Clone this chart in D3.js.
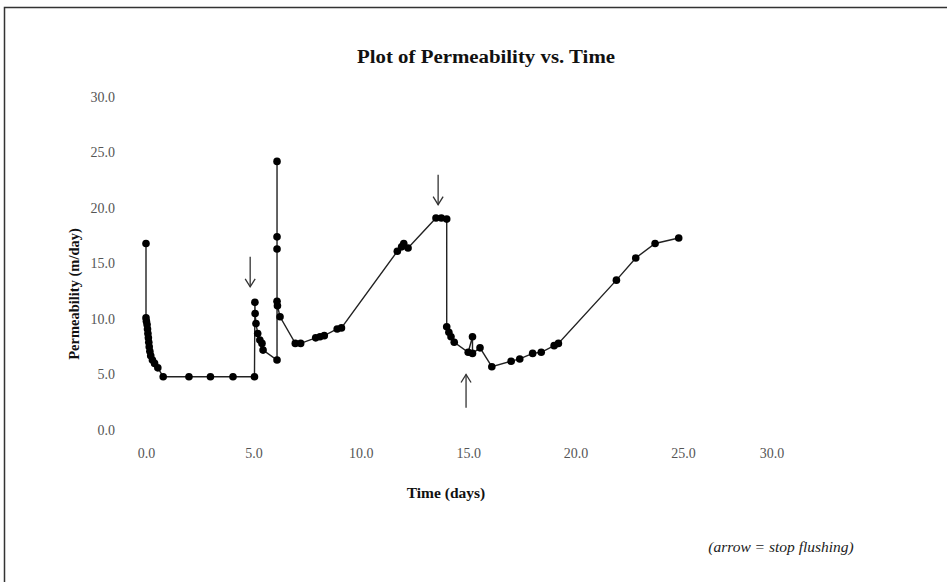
<!DOCTYPE html>
<html>
<head>
<meta charset="utf-8">
<script src="https://cdn.jsdelivr.net/npm/d3@7"></script>
<style>
	body { margin: 0; background: #fff; }
	svg { display: block; }
	.tick text { font-family: "Liberation Serif", serif; font-size: 14px; fill: #555; }
</style>
</head>
<body>
<div id="chart"></div>
<script>

// permeability readings, time in days
var times = [
	0.0, 0.0, 0.02, 0.05, 0.07, 0.09, 0.11, 0.13, 0.15, 0.18, 0.22, 0.3, 0.4, 0.55,
	0.8, 2.0, 3.0, 4.05, 5.05,
	5.07, 5.08, 5.12, 5.2, 5.3, 5.4, 5.45,
	6.1, 6.1, 6.1, 6.1, 6.1, 6.12, 6.24,
	6.95, 7.2, 7.9, 8.1, 8.3, 8.9, 9.1,
	11.7, 11.9, 12.0, 12.2,
	13.5, 13.75, 14.0,
	14.0, 14.1, 14.2, 14.35, 15.0, 15.2, 15.2, 15.55, 16.1,
	17.0, 17.4, 18.0, 18.4, 19.0, 19.2,
	21.9, 22.8, 23.7, 24.8
]

var permeability = [
	16.8, 10.1, 9.8, 9.5, 9.1, 8.7, 8.3, 7.9, 7.5, 7.1, 6.7, 6.3, 6.0, 5.6,
	4.8, 4.8, 4.8, 4.8, 4.8,
	11.5, 10.5, 9.6, 8.7, 8.1, 7.8, 7.2,
	6.3, 24.2, 17.4, 16.3, 11.6, 11.2, 10.2,
	7.8, 7.8, 8.3, 8.4, 8.5, 9.1, 9.2,
	16.1, 16.5, 16.8, 16.4,
	19.1, 19.1, 19.0,
	9.3, 8.8, 8.4, 7.9, 7.0, 8.4, 6.9, 7.4, 5.7,
	6.2, 6.4, 6.9, 7.0, 7.6, 7.8,
	13.5, 15.5, 16.8, 17.3
]

var xTicks = [0, 5, 10, 15, 20, 25, 30]
var yTicks = [0, 5, 10, 15, 20, 25, 30]

// stop flushing markers: time, arrow top value, arrow tip value
var arrowTimes = [4.85, 13.6, 14.9]
var arrowFrom = [15.6, 23.0, 2.0]
var arrowTo = [12.9, 20.3, 5.0]

var width = 947
var height = 582

var svg = d3.select("#chart")
	.append("svg")
	.attr("width", width)
	.attr("height", height)

svg.append("rect")
	.attr("x", 4.5)
	.attr("y", 7.5)
	.attr("width", width + 20)
	.attr("height", height + 20)
	.attr("fill", "#fff")
	.attr("stroke", "#333")
	.attr("stroke-width", 1.5)

var x = d3.scaleLinear()
	.domain([0, 25])
	.range([146, 683])

var y = d3.scaleLinear()
	.domain([0, 30])
	.range([430, 97])

var xAxis = svg.append("g")
	.attr("class", "x axis")
	.attr("transform", "translate(0,451)")
	.call(d3.axisBottom(x).tickValues(xTicks).tickSize(0).tickFormat(d3.format(".1f")))

xAxis.select(".domain").remove()

// the last label sits a little left in the original
xAxis.selectAll(".tick text")
	.attr("dy", "0.3em")
	.attr("dx", function(d) { return d === 30 ? -19 : 0 })

var yAxis = svg.append("g")
	.attr("class", "y axis")
	.attr("transform", "translate(118,0)")
	.call(d3.axisLeft(y).tickValues(yTicks).tickSize(0).tickFormat(d3.format(".1f")))

yAxis.select(".domain").remove()

var points = times.map(function(t, i) { return [t, permeability[i]] })

var line = d3.line()
	.x(function(d) { return x(d[0]) })
	.y(function(d) { return y(d[1]) })

svg.append("path")
	.datum(points)
	.attr("d", line)
	.attr("fill", "none")
	.attr("stroke", "#222")
	.attr("stroke-width", 1.4)

svg.selectAll(".dot")
	.data(points)
	.enter()
	.append("circle")
	.attr("class", "dot")
	.attr("cx", function(d) { return x(d[0]) })
	.attr("cy", function(d) { return y(d[1]) })
	.attr("r", 3.8)
	.attr("fill", "#000")

// arrows
for (var i = 0; i < arrowTimes.length; i++) {

	var ax = x(arrowTimes[i])
	var y1 = y(arrowFrom[i])
	var y2 = y(arrowTo[i])
	var dir = y2 > y1 ? -1 : 1

	svg.append("line")
		.attr("x1", ax)
		.attr("y1", y1)
		.attr("x2", ax)
		.attr("y2", y2)
		.attr("stroke", "#333")
		.attr("stroke-width", 1.3)

	svg.append("path")
		.attr("d", "M" + (ax - 5) + "," + (y2 + dir * 8) + "L" + ax + "," + y2 + "L" + (ax + 5) + "," + (y2 + dir * 8))
		.attr("fill", "none")
		.attr("stroke", "#333")
		.attr("stroke-width", 1.3)

}

svg.append("text")
	.attr("x", 486)
	.attr("y", 63)
	.attr("text-anchor", "middle")
	.attr("textLength", 258)
	.attr("lengthAdjust", "spacingAndGlyphs")
	.style("font-family", "Liberation Serif, serif")
	.style("font-weight", "bold")
	.style("font-size", "18px")
	.attr("fill", "#111")
	.text("Plot of Permeability vs. Time")

svg.append("text")
	.attr("transform", "translate(79,294) rotate(-90)")
	.attr("text-anchor", "middle")
	.style("font-family", "Liberation Serif, serif")
	.style("font-weight", "bold")
	.style("font-size", "14.5px")
	.attr("fill", "#111")
	.text("Permeability (m/day)")

svg.append("text")
	.attr("x", 446)
	.attr("y", 498)
	.attr("text-anchor", "middle")
	.style("font-family", "Liberation Serif, serif")
	.style("font-weight", "bold")
	.style("font-size", "15.5px")
	.attr("fill", "#111")
	.text("Time (days)")

svg.append("text")
	.attr("x", 781)
	.attr("y", 552)
	.attr("text-anchor", "middle")
	.style("font-family", "Liberation Serif, serif")
	.style("font-style", "italic")
	.style("font-size", "15.5px")
	.attr("fill", "#222")
	.text("(arrow = stop flushing)")

</script>
</body>
</html>
